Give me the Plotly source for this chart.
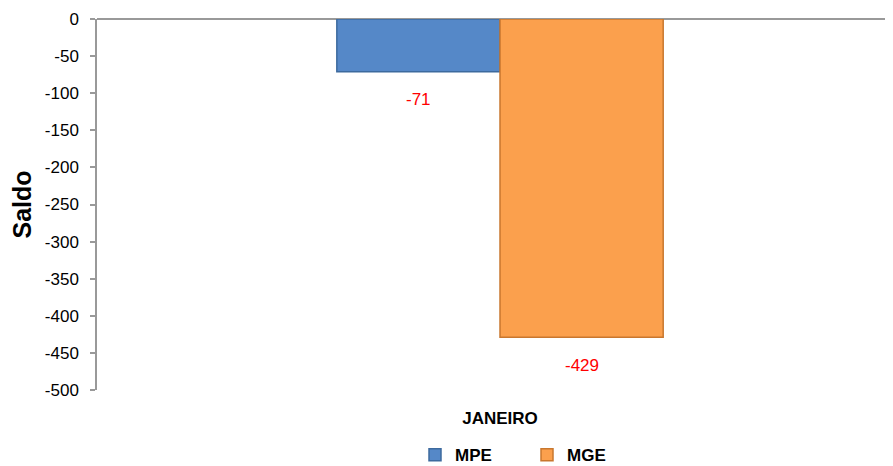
import plotly.graph_objects as go

categories = ["JANEIRO"]
series_names = ["MPE", "MGE"]
mpe_values = [-71]
mge_values = [-429]
y_ticks = [0, -50, -100, -150, -200, -250, -300, -350, -400, -450, -500]

colors = {"MPE": "#5588C8", "MGE": "#FBA04D"}
edge = {"MPE": "#3D6A9E", "MGE": "#C9772E"}

fig = go.Figure()
for name, vals in zip(series_names, [mpe_values, mge_values]):
    fig.add_trace(go.Bar(
        x=categories, y=vals, name=name,
        marker=dict(color=colors[name], line=dict(color=edge[name], width=1.5)),
    ))

# data labels below bars
n = len(series_names)
for i, (name, vals) in enumerate(zip(series_names, [mpe_values, mge_values])):
    for c, v in zip(categories, vals):
        fig.add_annotation(
            x=c, y=v, text=str(v), showarrow=False, xref="x", yref="y",
            xshift=(i - (n - 1) / 2) * 163, yshift=-28,
            font=dict(color="#FF0000", size=17, family="Liberation Sans, Arial"),
        )

# page body has an 8px default margin; compensate so the chart fills 893x466
fig.update_layout(
    width=885, height=458,
    margin=dict(l=89, r=0, t=11, b=76, autoexpand=False),
    paper_bgcolor="white", plot_bgcolor="white",
    barmode="group", bargap=0.59, bargroupgap=0,
    font=dict(family="Liberation Sans, Arial", size=16, color="#000000"),
    showlegend=True,
    legend=dict(
        orientation="h", x=0.3995, xanchor="left", y=-0.176, yanchor="middle",
        font=dict(size=17, family="Liberation Sans, Arial", color="#000", weight="bold"),
        entrywidth=67, itemwidth=30, traceorder="normal",
    ),
    xaxis=dict(
        range=[-0.5063, 0.4937], showgrid=False, showline=False, ticks="",
        tickfont=dict(size=17, weight="bold"), ticklabelstandoff=16, automargin=False,
    ),
    yaxis=dict(
        range=[-500, 0], tickvals=y_ticks, ticktext=[str(t) for t in y_ticks],
        showgrid=False, showline=True, linecolor="#999999", linewidth=1.5,
        ticks="outside", ticklen=5, tickcolor="#999999", tickwidth=1.5,
        zeroline=True, zerolinecolor="#999999", zerolinewidth=2,
        title=dict(text="Saldo", font=dict(size=25, weight="bold"), standoff=12),
        tickfont=dict(size=17), ticklabelstandoff=8, automargin=False,
    ),
)

fig.write_html("out.html")
